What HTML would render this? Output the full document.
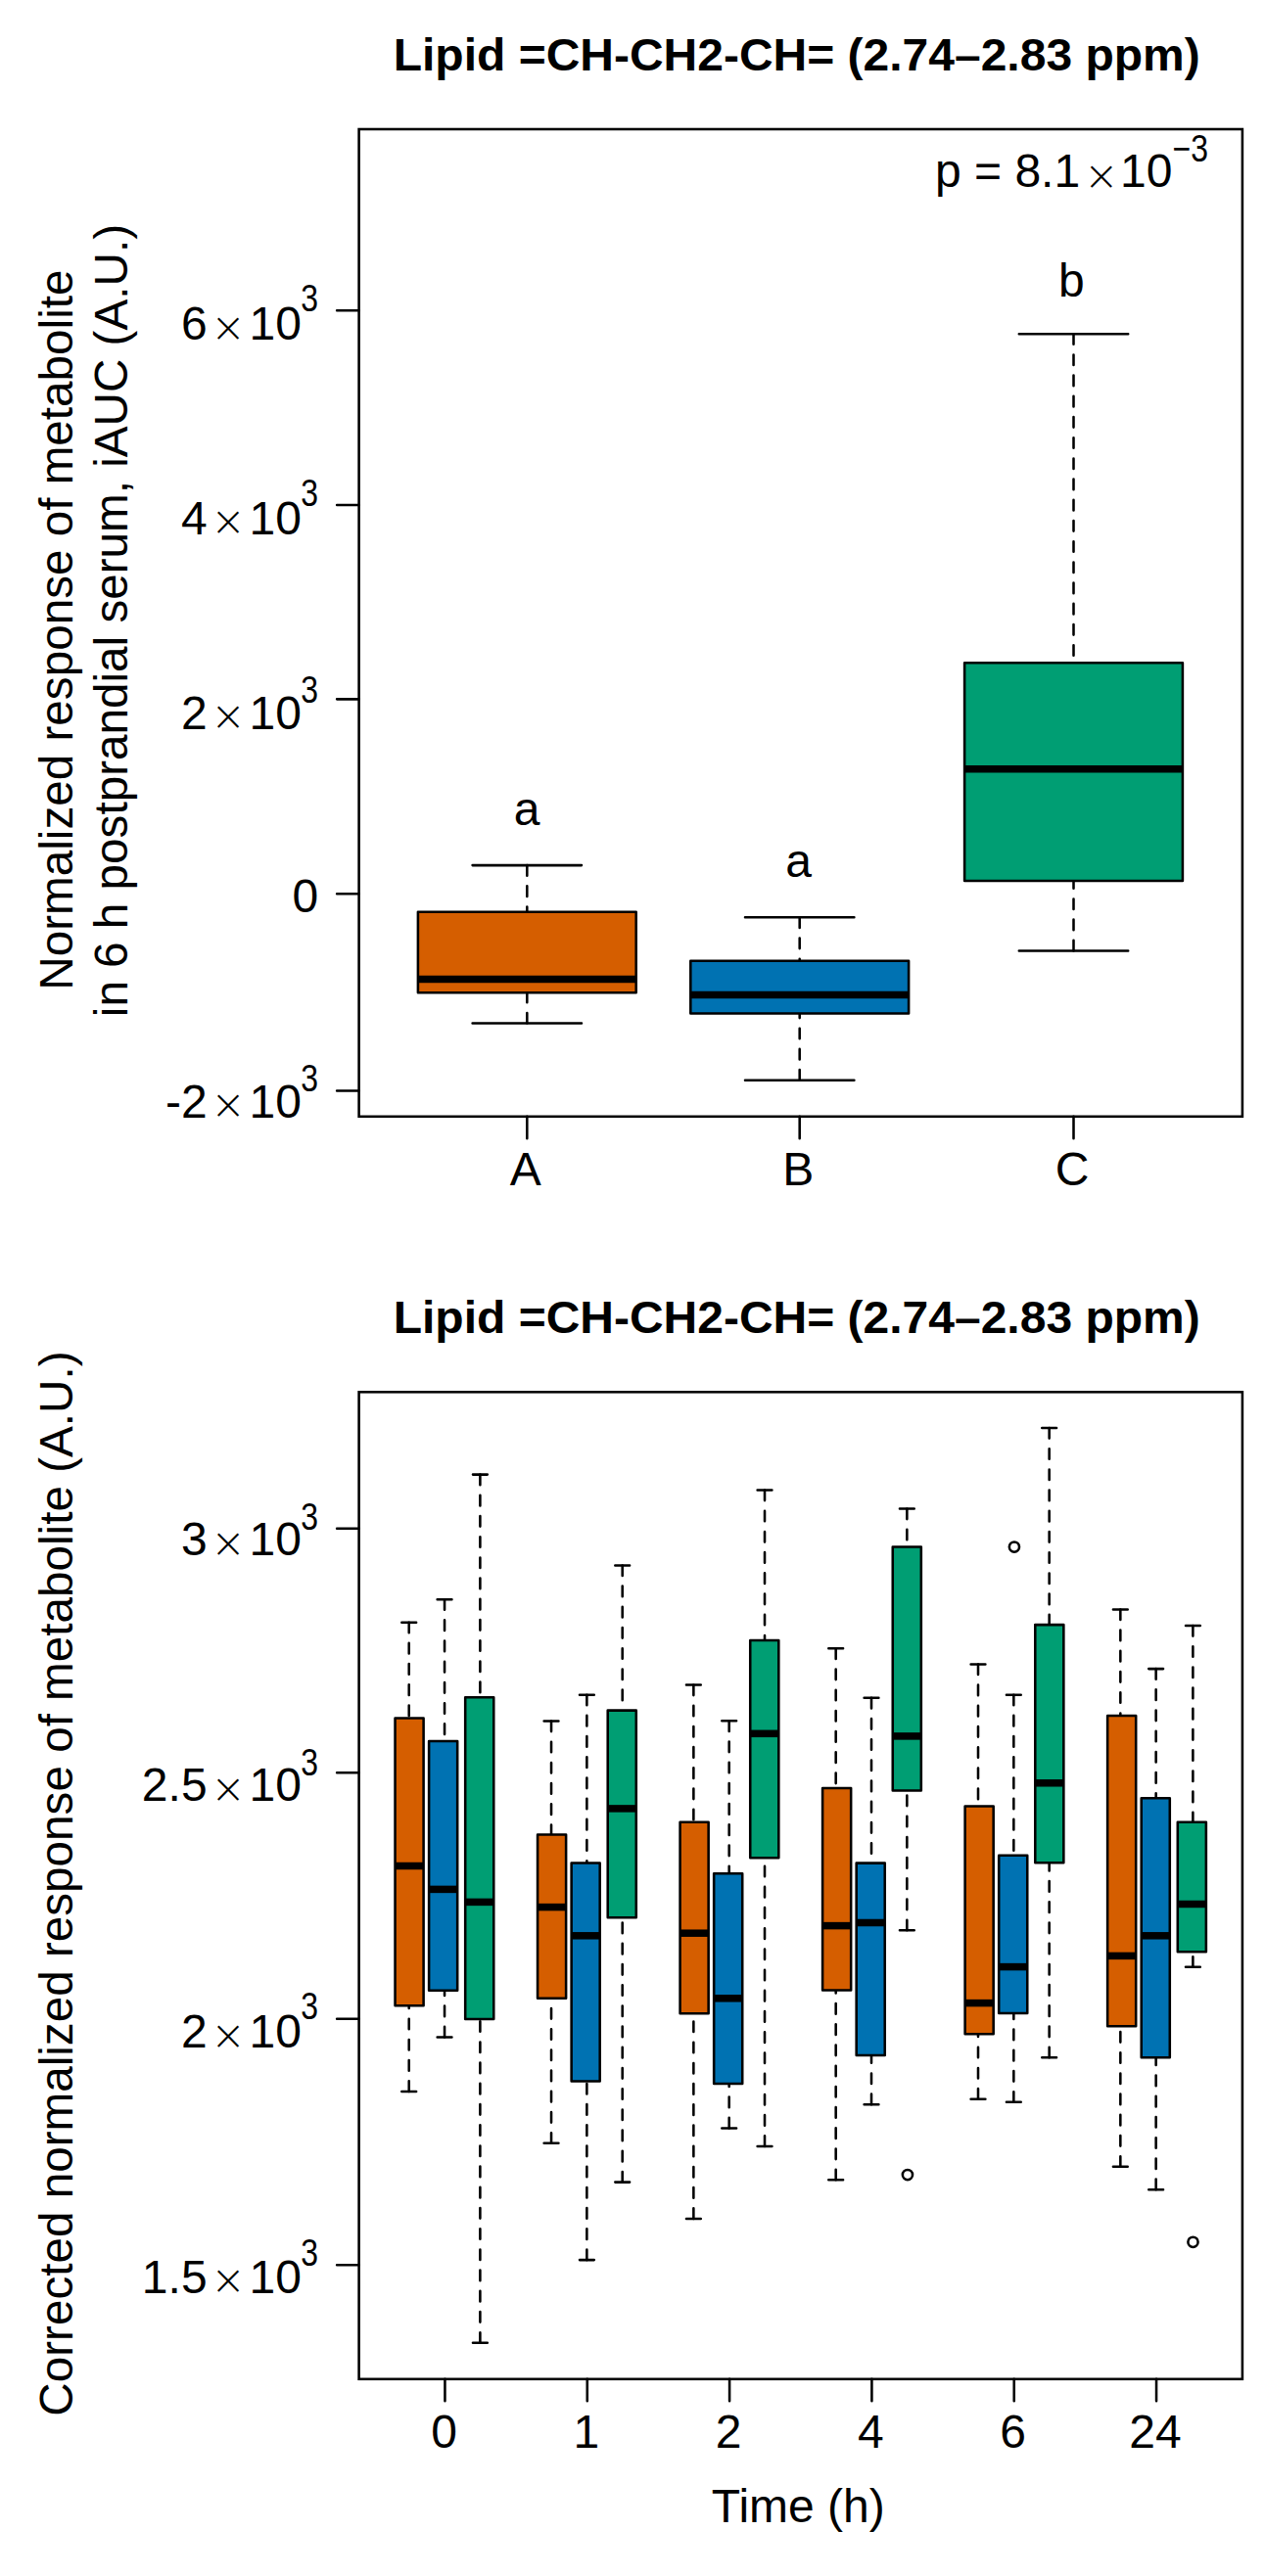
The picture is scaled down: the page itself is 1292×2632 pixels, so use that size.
<!DOCTYPE html>
<html lang="en"><head><meta charset="utf-8"><title>Lipid =CH-CH2-CH= (2.74–2.83 ppm)</title>
<style>
html,body{margin:0;padding:0;background:#fff}
svg{display:block}
text{font-family:"Liberation Sans",sans-serif;fill:#000}
.t{font-size:48px}.r{font-size:47.65px}.b{font-size:48px;font-weight:bold}.sup{font-size:33.6px}.tm{font-size:42.5px;font-family:"DejaVu Sans Light","DejaVu Sans","Liberation Sans",sans-serif;font-weight:200}
.wh{fill:none;stroke:#000;stroke-width:2.55;stroke-dasharray:10.6 10.6;stroke-linecap:round}
.cap{fill:none;stroke:#000;stroke-width:2.55;stroke-linecap:round}
.bx{stroke:#000;stroke-width:2.55;stroke-linejoin:round}
.med{fill:none;stroke:#000;stroke-width:7.5;stroke-linecap:butt}
.ax{fill:none;stroke:#000;stroke-width:2.55;stroke-linecap:round}
.pt{fill:none;stroke:#000;stroke-width:2.55}
</style></head><body>
<svg width="1292" height="2632" viewBox="0 0 1292 2632">
<rect width="1292" height="2632" fill="#fff"/>
<g id="panel-top">
<text transform="translate(401.7 72.0) scale(1 0.965)" class="b">Lipid =CH-CH2-CH= (2.74–2.83 ppm)</text>
<text transform="translate(73.5 643.6) rotate(-90)" text-anchor="middle" class="r">Normalized response of metabolite</text>
<text transform="translate(130.4 634.1) rotate(-90)" text-anchor="middle" class="r">in 6 h postprandial serum, iAUC (A.U.)</text>
<path d="M538.30 884.10V931.80M538.30 1045.50V1014.30" class="wh"/>
<path d="M482.60 884.10H594.00M482.60 1045.50H594.00" class="cap"/>
<rect x="426.90" y="931.80" width="222.80" height="82.50" fill="#D55E00" class="bx"/>
<path d="M426.90 1000.60H649.70" class="med"/>
<path d="M816.70 937.30V981.70M816.70 1103.70V1035.40" class="wh"/>
<path d="M761.00 937.30H872.40M761.00 1103.70H872.40" class="cap"/>
<rect x="705.30" y="981.70" width="222.80" height="53.70" fill="#0072B2" class="bx"/>
<path d="M705.30 1016.60H928.10" class="med"/>
<path d="M1096.50 341.20V677.30M1096.50 971.40V900.00" class="wh"/>
<path d="M1040.80 341.20H1152.20M1040.80 971.40H1152.20" class="cap"/>
<rect x="985.10" y="677.30" width="222.80" height="222.70" fill="#009E73" class="bx"/>
<path d="M985.10 785.80H1207.90" class="med"/>
<rect x="366.6" y="132.0" width="902.30" height="1008.80" fill="none" stroke="#000" stroke-width="2.55"/>
<path d="M366.6 317.3H344.1M366.6 516.05H344.1M366.6 714.35H344.1M366.6 1114.4H344.1M366.6 913.2H344.1M538.30 1140.8V1163.3M816.70 1140.8V1163.3M1096.50 1140.8V1163.3" class="ax"/>
<text class="t"><tspan x="211.6" y="347.4" text-anchor="end">6</tspan><tspan x="233.1" y="348.7" text-anchor="middle" class="tm">×</tspan><tspan x="254.6" y="347.4">10</tspan></text>
<text transform="translate(307.2 318.0) scale(0.95 1.13)" class="sup">3</text>
<text class="t"><tspan x="211.6" y="545.5" text-anchor="end">4</tspan><tspan x="233.1" y="546.8" text-anchor="middle" class="tm">×</tspan><tspan x="254.6" y="545.5">10</tspan></text>
<text transform="translate(307.2 516.6) scale(0.95 1.13)" class="sup">3</text>
<text class="t"><tspan x="211.6" y="744.6" text-anchor="end">2</tspan><tspan x="233.1" y="745.9" text-anchor="middle" class="tm">×</tspan><tspan x="254.6" y="744.6">10</tspan></text>
<text transform="translate(307.2 718.0) scale(0.95 1.13)" class="sup">3</text>
<text class="t"><tspan x="211.6" y="1141.7" text-anchor="end">-2</tspan><tspan x="233.1" y="1143.0" text-anchor="middle" class="tm">×</tspan><tspan x="254.6" y="1141.7">10</tspan></text>
<text transform="translate(307.2 1115.1) scale(0.95 1.13)" class="sup">3</text>
<text x="325.2" y="932.3" text-anchor="end" class="t">0</text>
<text x="536.8" y="1211.2" text-anchor="middle" class="t">A</text>
<text x="815.2" y="1211.2" text-anchor="middle" class="t">B</text>
<text x="1095.0" y="1211.2" text-anchor="middle" class="t">C</text>
<text x="538" y="843.1" text-anchor="middle" class="t">a</text>
<text x="815.6" y="896" text-anchor="middle" class="t">a</text>
<text x="1094.3" y="303" text-anchor="middle" class="t">b</text>
<text class="t"><tspan x="955" y="191">p = 8.1</tspan><tspan x="1124.7" y="194.3" text-anchor="middle" class="tm">×</tspan><tspan x="1144" y="191">10</tspan></text>
<text transform="translate(1197.6 164.7) scale(0.95 1.13)" class="sup">−3</text>
</g>
<g id="panel-bottom">
<text transform="translate(401.7 1361.6) scale(1 0.965)" class="b">Lipid =CH-CH2-CH= (2.74–2.83 ppm)</text>
<text transform="translate(73.5 1924.6) rotate(-90)" text-anchor="middle" class="r">Corrected normalized response of metabolite (A.U.)</text>
<path d="M417.72 1657.70V1755.40M417.72 2136.90V2049.30" class="wh"/>
<path d="M410.32 1657.70H425.12M410.32 2136.90H425.12" class="cap"/>
<rect x="403.54" y="1755.40" width="29.06" height="293.90" fill="#D55E00" class="bx"/>
<path d="M403.54 1906.50H432.60" class="med"/>
<path d="M454.05 1634.20V1779.00M454.05 2081.40V2033.70" class="wh"/>
<path d="M446.65 1634.20H461.45M446.65 2081.40H461.45" class="cap"/>
<rect x="438.12" y="1779.00" width="29.06" height="254.70" fill="#0072B2" class="bx"/>
<path d="M438.12 1930.40H467.18" class="med"/>
<path d="M490.38 1506.60V1734.20M490.38 2393.80V2063.00" class="wh"/>
<path d="M482.98 1506.60H497.78M482.98 2393.80H497.78" class="cap"/>
<rect x="475.20" y="1734.20" width="29.06" height="328.80" fill="#009E73" class="bx"/>
<path d="M475.20 1943.40H504.26" class="med"/>
<path d="M563.04 1758.50V1874.50M563.04 2189.80V2041.80" class="wh"/>
<path d="M555.64 1758.50H570.44M555.64 2189.80H570.44" class="cap"/>
<rect x="549.06" y="1874.50" width="29.06" height="167.30" fill="#D55E00" class="bx"/>
<path d="M549.06 1948.60H578.12" class="med"/>
<path d="M599.37 1731.70V1903.40M599.37 2309.10V2126.50" class="wh"/>
<path d="M591.97 1731.70H606.77M591.97 2309.10H606.77" class="cap"/>
<rect x="583.64" y="1903.40" width="29.06" height="223.10" fill="#0072B2" class="bx"/>
<path d="M583.64 1977.80H612.70" class="med"/>
<path d="M635.70 1599.40V1747.60M635.70 2229.60V1959.30" class="wh"/>
<path d="M628.30 1599.40H643.10M628.30 2229.60H643.10" class="cap"/>
<rect x="620.72" y="1747.60" width="29.06" height="211.70" fill="#009E73" class="bx"/>
<path d="M620.72 1847.90H649.78" class="med"/>
<path d="M708.36 1721.50V1861.70M708.36 2266.90V2057.20" class="wh"/>
<path d="M700.96 1721.50H715.76M700.96 2266.90H715.76" class="cap"/>
<rect x="694.58" y="1861.70" width="29.06" height="195.50" fill="#D55E00" class="bx"/>
<path d="M694.58 1975.20H723.64" class="med"/>
<path d="M744.69 1758.30V1914.20M744.69 2174.40V2129.10" class="wh"/>
<path d="M737.29 1758.30H752.09M737.29 2174.40H752.09" class="cap"/>
<rect x="729.16" y="1914.20" width="29.06" height="214.90" fill="#0072B2" class="bx"/>
<path d="M729.16 2041.80H758.22" class="med"/>
<path d="M781.02 1522.50V1676.00M781.02 2192.90V1898.20" class="wh"/>
<path d="M773.62 1522.50H788.42M773.62 2192.90H788.42" class="cap"/>
<rect x="766.24" y="1676.00" width="29.06" height="222.20" fill="#009E73" class="bx"/>
<path d="M766.24 1771.30H795.30" class="med"/>
<path d="M853.68 1684.30V1827.00M853.68 2227.30V2033.50" class="wh"/>
<path d="M846.28 1684.30H861.08M846.28 2227.30H861.08" class="cap"/>
<rect x="840.10" y="1827.00" width="29.06" height="206.50" fill="#D55E00" class="bx"/>
<path d="M840.10 1967.60H869.16" class="med"/>
<path d="M890.01 1734.80V1903.60M890.01 2150.20V2099.90" class="wh"/>
<path d="M882.61 1734.80H897.41M882.61 2150.20H897.41" class="cap"/>
<rect x="874.68" y="1903.60" width="29.06" height="196.30" fill="#0072B2" class="bx"/>
<path d="M874.68 1964.50H903.74" class="med"/>
<path d="M926.34 1541.50V1580.40M926.34 1972.30V1829.40" class="wh"/>
<path d="M918.94 1541.50H933.74M918.94 1972.30H933.74" class="cap"/>
<rect x="911.76" y="1580.40" width="29.06" height="249.00" fill="#009E73" class="bx"/>
<path d="M911.76 1773.90H940.82" class="med"/>
<path d="M999.00 1700.40V1845.50M999.00 2144.70V2078.30" class="wh"/>
<path d="M991.60 1700.40H1006.40M991.60 2144.70H1006.40" class="cap"/>
<rect x="985.62" y="1845.50" width="29.06" height="232.80" fill="#D55E00" class="bx"/>
<path d="M985.62 2046.60H1014.68" class="med"/>
<path d="M1035.33 1731.70V1895.80M1035.33 2147.80V2057.00" class="wh"/>
<path d="M1027.93 1731.70H1042.73M1027.93 2147.80H1042.73" class="cap"/>
<rect x="1020.20" y="1895.80" width="29.06" height="161.20" fill="#0072B2" class="bx"/>
<path d="M1020.20 2009.60H1049.26" class="med"/>
<path d="M1071.66 1459.00V1660.10M1071.66 2102.30V1903.30" class="wh"/>
<path d="M1064.26 1459.00H1079.06M1064.26 2102.30H1079.06" class="cap"/>
<rect x="1057.28" y="1660.10" width="29.06" height="243.20" fill="#009E73" class="bx"/>
<path d="M1057.28 1821.80H1086.34" class="med"/>
<path d="M1144.32 1644.40V1753.00M1144.32 2213.80V2070.30" class="wh"/>
<path d="M1136.92 1644.40H1151.72M1136.92 2213.80H1151.72" class="cap"/>
<rect x="1131.14" y="1753.00" width="29.06" height="317.30" fill="#D55E00" class="bx"/>
<path d="M1131.14 1998.40H1160.20" class="med"/>
<path d="M1180.65 1705.10V1837.20M1180.65 2237.20V2102.30" class="wh"/>
<path d="M1173.25 1705.10H1188.05M1173.25 2237.20H1188.05" class="cap"/>
<rect x="1165.72" y="1837.20" width="29.06" height="265.10" fill="#0072B2" class="bx"/>
<path d="M1165.72 1977.80H1194.78" class="med"/>
<path d="M1218.38 1661.00V1861.70M1218.38 2009.80V1994.20" class="wh"/>
<path d="M1210.98 1661.00H1225.78M1210.98 2009.80H1225.78" class="cap"/>
<rect x="1202.80" y="1861.70" width="29.06" height="132.50" fill="#009E73" class="bx"/>
<path d="M1202.80 1945.50H1231.86" class="med"/>
<circle cx="926.94" cy="2222.1" r="5.1" class="pt"/>
<circle cx="1035.93" cy="1580.6" r="5.1" class="pt"/>
<circle cx="1218.48" cy="2290.8" r="5.1" class="pt"/>
<rect x="366.6" y="1422.3" width="902.30" height="1008.50" fill="none" stroke="#000" stroke-width="2.55"/>
<path d="M366.6 1561.7H344.1M366.6 1811.3H344.1M366.6 2062.7H344.1M366.6 2314.3H344.1M454.45 2430.8V2453.3M599.77 2430.8V2453.3M745.09 2430.8V2453.3M890.41 2430.8V2453.3M1035.73 2430.8V2453.3M1181.05 2430.8V2453.3" class="ax"/>
<text class="t"><tspan x="211.6" y="1589.3" text-anchor="end">3</tspan><tspan x="233.1" y="1590.6" text-anchor="middle" class="tm">×</tspan><tspan x="254.6" y="1589.3">10</tspan></text>
<text transform="translate(307.2 1562.8) scale(0.95 1.13)" class="sup">3</text>
<text class="t"><tspan x="211.6" y="1840.3" text-anchor="end">2.5</tspan><tspan x="233.1" y="1841.6" text-anchor="middle" class="tm">×</tspan><tspan x="254.6" y="1840.3">10</tspan></text>
<text transform="translate(307.2 1814.2) scale(0.95 1.13)" class="sup">3</text>
<text class="t"><tspan x="211.6" y="2092.2" text-anchor="end">2</tspan><tspan x="233.1" y="2093.5" text-anchor="middle" class="tm">×</tspan><tspan x="254.6" y="2092.2">10</tspan></text>
<text transform="translate(307.2 2063.2) scale(0.95 1.13)" class="sup">3</text>
<text class="t"><tspan x="211.6" y="2343.1" text-anchor="end">1.5</tspan><tspan x="233.1" y="2344.4" text-anchor="middle" class="tm">×</tspan><tspan x="254.6" y="2343.1">10</tspan></text>
<text transform="translate(307.2 2314.7) scale(0.95 1.13)" class="sup">3</text>
<text x="453.5" y="2501.2" text-anchor="middle" class="t">0</text>
<text x="598.8" y="2501.2" text-anchor="middle" class="t">1</text>
<text x="744.1" y="2501.2" text-anchor="middle" class="t">2</text>
<text x="889.4" y="2501.2" text-anchor="middle" class="t">4</text>
<text x="1034.7" y="2501.2" text-anchor="middle" class="t">6</text>
<text x="1180.0" y="2501.2" text-anchor="middle" class="t">24</text>
<text x="815.3" y="2576.8" text-anchor="middle" class="t">Time (h)</text>
</g>
</svg></body></html>
